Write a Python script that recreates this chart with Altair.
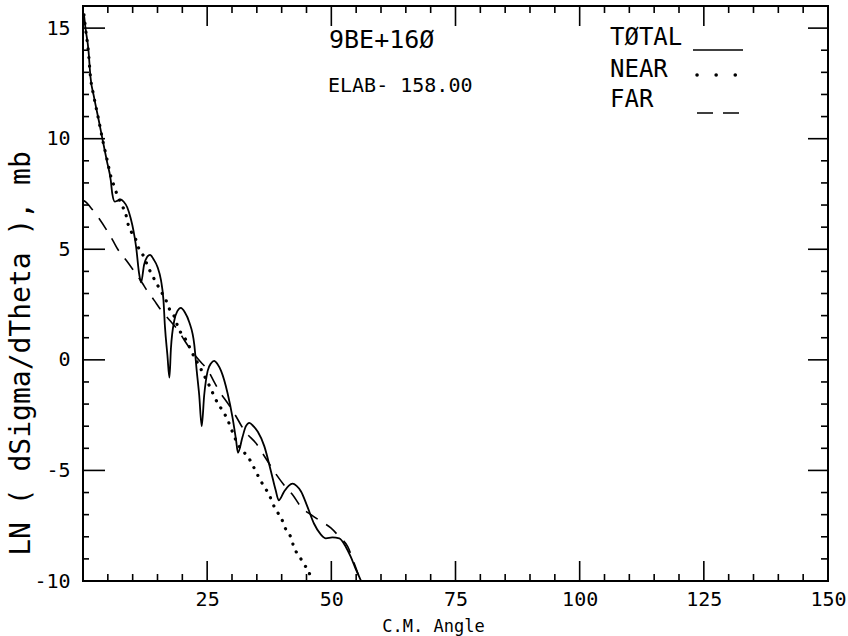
import altair as alt
import pandas as pd

# ---------------- data ----------------
total_x = [0.2, 0.5, 1.1, 1.5, 2.2, 3.2, 3.9, 4.8, 5.6, 5.9, 6.4, 7.0, 7.6, 8.2, 8.9, 9.6,
           10.2, 10.7, 11.3, 11.7, 12.3, 12.9, 13.5, 14.2, 15.0, 15.7, 16.2, 16.5, 17.0, 17.4,
           17.7, 18.4, 19.0, 19.7, 20.5, 21.4, 22.4, 22.9, 23.4, 23.9, 24.4, 25.1, 25.8, 26.4,
           27.1, 27.8, 29.1, 30.1, 30.8, 31.2, 32.1, 32.8, 33.5, 34.3, 35.2, 36.5, 37.8, 38.8,
           39.4, 40.5, 41.4, 42.2, 43.0, 43.9, 45.2, 46.5, 47.9, 48.9, 50.2, 51.6, 52.9, 53.9,
           54.9, 55.6, 56.0]
total_y = [15.6, 15.0, 14.0, 12.8, 11.9, 10.8, 10.0, 9.0, 8.1, 7.5, 7.15, 7.2, 7.25, 7.15, 6.9, 6.4,
           5.8, 5.1, 3.9, 3.5, 4.3, 4.65, 4.75, 4.55, 4.2, 3.6, 2.7, 1.5, 0.2, -0.8,
           0.5, 1.8, 2.2, 2.35, 2.15, 1.7, 0.7, -0.5, -1.6, -3.0, -1.6, -0.5, -0.15, -0.05,
           -0.2, -0.5, -1.5, -2.6, -3.6, -4.2, -3.5, -3.0, -2.85, -3.0, -3.25, -3.9, -5.0, -5.9,
           -6.35, -5.95, -5.7, -5.6, -5.7, -5.95, -6.65, -7.4, -7.9, -8.07, -8.03, -8.07, -8.45, -8.9,
           -9.45, -9.8, -10.0]

near_x = [0.2, 0.5, 1.1, 1.5, 2.2, 3.2, 3.9, 4.8, 5.6, 6.2, 6.9, 7.8, 8.6, 9.0, 10.7, 11.3,
          12.3, 13.0, 14.0, 15.7, 16.7, 17.4, 18.4, 19.1, 21.1, 21.7, 23.7, 25.4, 27.1, 28.1,
          29.1, 29.8, 31.4, 32.5, 33.8, 34.8, 35.5, 36.5, 37.5, 38.2, 39.2, 40.2, 40.8, 41.9,
          42.5, 43.5, 44.5, 45.5, 46.0]
near_y = [15.6, 15.0, 13.9, 12.8, 11.9, 10.8, 10.0, 9.1, 8.3, 7.9, 7.45, 7.0, 6.6, 6.2, 5.4, 5.0,
          4.65, 4.25, 3.8, 3.1, 2.7, 2.3, 1.95, 1.5, 0.75, 0.45, -0.4, -1.15, -1.95, -2.3,
          -2.7, -3.1, -3.9, -4.2, -4.6, -5.05, -5.35, -5.75, -6.1, -6.5, -6.9, -7.3, -7.65, -8.05,
          -8.5, -8.85, -9.25, -9.6, -10.0]

far_x = [0.0, 0.5, 1.5, 3.2, 6.0, 7.0, 8.7, 10.0, 12.0, 12.7, 14.3, 15.7, 17.4, 19.1, 20.5,
         21.9, 23.7, 25.1, 26.4, 27.4, 29.4, 30.4, 32.5, 35.1, 35.8, 37.5, 38.8, 40.8, 42.2,
         43.9, 45.9, 47.9, 49.9, 51.6, 53.3, 54.6, 55.6, 56.0]
far_y = [7.2, 7.15, 6.9, 6.4, 5.4, 5.0, 4.5, 4.1, 3.45, 3.2, 2.7, 2.25, 1.8, 1.35, 0.85,
         0.4, -0.1, -0.45, -1.0, -1.4, -2.05, -2.4, -3.2, -3.85, -4.1, -4.7, -5.15, -5.75, -6.1,
         -6.65, -7.0, -7.3, -7.6, -8.0, -8.45, -9.2, -9.8, -10.0]

x_tick_labels = [25, 50, 75, 100, 125, 150]
y_tick_labels = [-10, -5, 0, 5, 10, 15]
x_major_ticks = [25, 50, 75, 100, 125]
x_minor_ticks = [v for v in range(5, 150, 5) if v % 25]
y_major_ticks = [-5, 0, 5, 10, 15]
y_minor_ticks = [v for v in range(-9, 16) if v % 5]

plot_title = "9BE+16Ø"
plot_subtitle = "ELAB- 158.00"
legend_labels = ["TØTAL", "NEAR", "FAR"]
x_title = "C.M. Angle"
y_title = "LN ( dSigma/dTheta ), mb"

# ---------------- layout ----------------
W, H = 745, 575
FONT = "DejaVu Sans Mono"

xs = alt.Scale(domain=[0, 150], nice=False, zero=False)
ys = alt.Scale(domain=[-10, 16], nice=False, zero=False)

x_axis = alt.Axis(values=x_tick_labels, title=x_title, ticks=False, domain=False, grid=False,
                  labelFlush=False, labelPadding=8, labelFontSize=20, labelFont=FONT,
                  labelColor="black", titleFont=FONT, titleFontSize=17, titleFontWeight="normal",
                  titleColor="black", titleX=350, titleY=50, titleAlign="center",
                  titleBaseline="alphabetic")
y_axis = alt.Axis(values=y_tick_labels, title=y_title, ticks=False, domain=False, grid=False,
                  labelPadding=13, labelFontSize=20, labelFont=FONT, labelColor="black",
                  labelExpr="'' + datum.value",
                  titleFont=FONT, titleFontSize=28, titleFontWeight="normal", titleColor="black",
                  titleX=-62, titleY=347, titleAngle=270, titleAlign="center",
                  titleBaseline="middle")

X = alt.X("x:Q", scale=xs, axis=x_axis)
Y = alt.Y("y:Q", scale=ys, axis=y_axis)


def curve(xv, yv, **mark):
    df = pd.DataFrame({"x": xv, "y": yv})
    return alt.Chart(df).mark_line(color="black", clip=True, interpolate="monotone", **mark).encode(x=X, y=Y)


total = curve(total_x, total_y, strokeWidth=1.8)
near = curve(near_x, near_y, strokeWidth=3.2, strokeDash=[0.1, 8.5], strokeCap="round")
far = curve(far_x, far_y, strokeWidth=1.6, strokeDash=[14, 10])


def xticks(vals, length):
    df = pd.DataFrame({"x": vals})
    bottom = alt.Chart(df).mark_rule(color="black", strokeWidth=1.6).encode(
        x=X, y=alt.value(H), y2=alt.value(H - length))
    top = alt.Chart(df).mark_rule(color="black", strokeWidth=1.6).encode(
        x=X, y=alt.value(0), y2=alt.value(length))
    return [bottom, top]


def yticks(vals, length_l, length_r):
    df = pd.DataFrame({"y": vals})
    left = alt.Chart(df).mark_rule(color="black", strokeWidth=1.6).encode(
        y=Y, x=alt.value(0), x2=alt.value(length_l))
    right = alt.Chart(df).mark_rule(color="black", strokeWidth=1.6).encode(
        y=Y, x=alt.value(W), x2=alt.value(W - length_r))
    return [left, right]


tick_layers = (xticks(x_minor_ticks, 7) + xticks(x_major_ticks, 20)
               + yticks(y_minor_ticks, 6, 7) + yticks(y_major_ticks, 22, 20))


def label(text, px, py, size):
    return alt.Chart(pd.DataFrame({"t": [text]})).mark_text(
        font=FONT, fontSize=size, align="left", baseline="alphabetic", color="black"
    ).encode(text="t:N", x=alt.value(px), y=alt.value(py))


texts = [
    label(plot_title, 246, 42, 25),
    label(plot_subtitle, 245, 86, 20),
    label(legend_labels[0], 527, 39, 24),
    label(legend_labels[1], 527, 71, 24),
    label(legend_labels[2], 527, 101, 24),
]

one = pd.DataFrame({"a": [0]})
leg_solid = alt.Chart(one).mark_rule(color="black", strokeWidth=1.6).encode(
    x=alt.value(610), x2=alt.value(660), y=alt.value(44))
leg_dots = alt.Chart(one).mark_rule(color="black", strokeWidth=3.5, strokeDash=[0.1, 19],
                                    strokeCap="round").encode(
    x=alt.value(614), x2=alt.value(653), y=alt.value(69))
leg_dash = alt.Chart(one).mark_rule(color="black", strokeWidth=1.6, strokeDash=[16, 10]).encode(
    x=alt.value(614), x2=alt.value(657), y=alt.value(107))

chart = alt.layer(
    total, near, far, *tick_layers, *texts, leg_solid, leg_dots, leg_dash
).properties(
    width=W, height=H,
    autosize=alt.AutoSizeParams(type="none"),
    padding={"left": 83, "top": 6, "right": 20, "bottom": 55},
    background="white",
).configure_view(stroke="black", strokeWidth=2)

chart.save("out.html", embed_options={"renderer": "svg", "actions": False})
